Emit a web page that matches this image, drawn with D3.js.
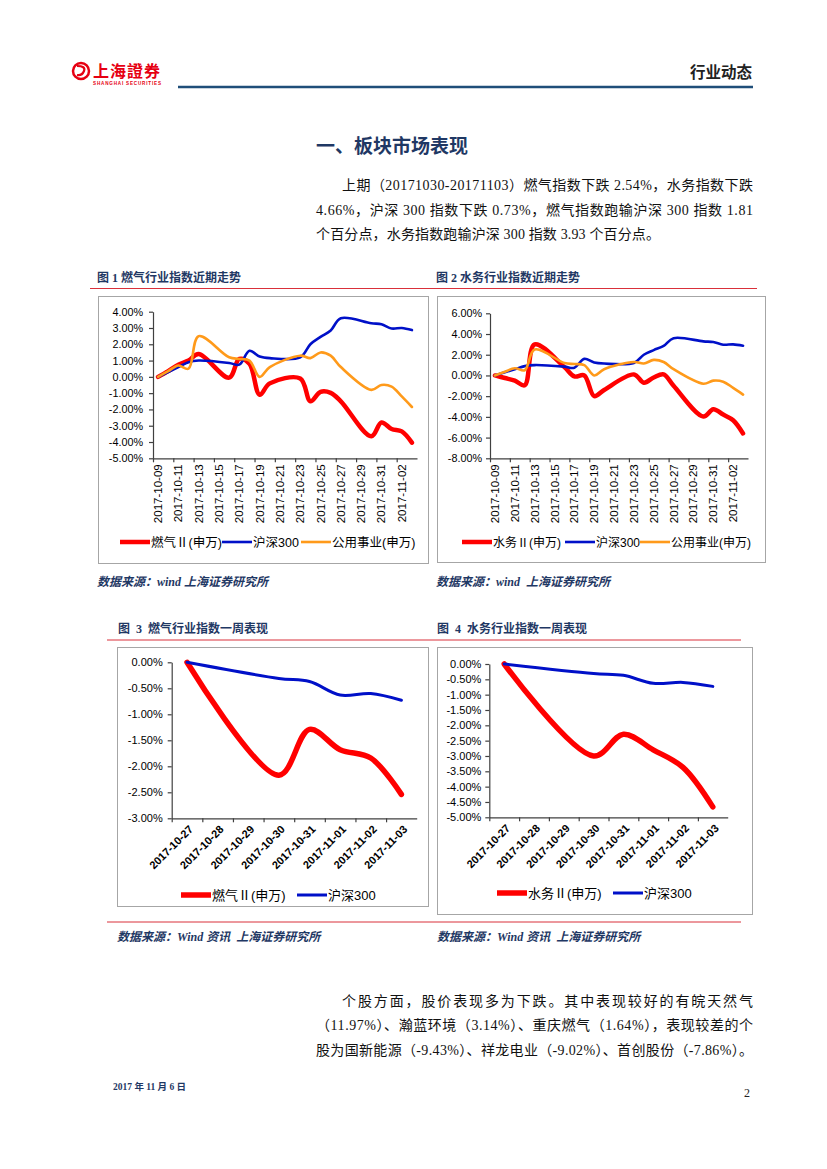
<!DOCTYPE html>
<html>
<head>
<meta charset="utf-8">
<script src="https://cdn.jsdelivr.net/npm/d3@7"></script>
<style>
  body { margin: 0; background: #fff; }
  svg { display: block; }
  .serif { font-family: "Liberation Serif", "Noto Sans CJK SC", serif; }
  .sans { font-family: "Liberation Sans", "Noto Sans CJK SC", sans-serif; }
  .ax text { font-family: "Liberation Sans", "Noto Sans CJK SC", sans-serif; fill: #000; }
  .ax path, .ax line { stroke: #404040; stroke-width: 1.2; }
</style>
</head>
<body>
<svg id="page" width="827" height="1169"></svg>
<script>
// ---- data (percent) ----
const trendDates = ["2017-10-09","2017-10-10","2017-10-11","2017-10-12","2017-10-13",
  "2017-10-16","2017-10-17","2017-10-18","2017-10-19","2017-10-20",
  "2017-10-23","2017-10-24","2017-10-25","2017-10-26","2017-10-27",
  "2017-10-30","2017-10-31","2017-11-01","2017-11-02","2017-11-03"];
const gasTrend   = [0, 0.35, 0.75, 1.0, 1.4, -0.05, 1.1, 0.8, -1.1, -0.4, -0.1, -1.5, -0.92, -0.98, -1.5, -3.65, -2.8, -3.2, -3.35, -4.04];
const waterTrend = [0, -0.25, -0.5, -0.95, 3.0, 0.8, -0.1, 0.0, -2.0, -1.4, 0.1, -0.7, -0.2, 0.1, -1.0, -3.97, -3.27, -3.78, -4.32, -5.6];
const hs300Trend = [0, 0.3, 0.6, 0.9, 1.0, 0.85, 0.75, 1.6, 1.25, 1.15, 1.2, 2.0, 2.45, 2.85, 3.6, 3.29, 3.23, 2.97, 3.0, 2.87];
const utilTrend  = [0, 0.35, 0.7, 0.5, 2.5, 1.2, 1.1, 1.0, 0.0, 0.6, 1.3, 1.15, 1.5, 1.3, 0.6, -0.8, -0.5, -0.6, -1.2, -1.85];
const trendTicks = ["2017-10-09","2017-10-11","2017-10-13","2017-10-15","2017-10-17","2017-10-19",
  "2017-10-21","2017-10-23","2017-10-25","2017-10-27","2017-10-29","2017-10-31","2017-11-02"];

const weekDays  = ["2017-10-27","2017-10-28","2017-10-29","2017-10-30","2017-10-31","2017-11-01","2017-11-02","2017-11-03"];
const weekDates = ["2017-10-27","2017-10-30","2017-10-31","2017-11-01","2017-11-02","2017-11-03"];
const gasWeek   = [0, -2.17, -1.29, -1.68, -1.84, -2.54];
const waterWeek = [0, -3.0, -2.29, -2.8, -3.37, -4.66];
const hs300Week = [0, -0.31, -0.37, -0.63, -0.6, -0.73];

const ticks1 = [4, 3, 2, 1, 0, -1, -2, -3, -4, -5];
const ticks2 = [6, 4, 2, 0, -2, -4, -6, -8];
const ticks3 = [0, -0.5, -1, -1.5, -2, -2.5, -3];
const ticks4 = [0, -0.5, -1, -1.5, -2, -2.5, -3, -3.5, -4, -4.5, -5];

const RED = "#ff0000", BLUE = "#0010c8", ORANGE = "#ff9a1a", NAVY = "#1f3864";

const parse = d3.timeParse("%Y-%m-%d");
const HALF = 12 * 3600 * 1000;
const svg = d3.select("#page");

// ---- page header ----
svg.append("circle").attr("cx", 81).attr("cy", 71).attr("r", 8)
  .attr("fill", "none").attr("stroke", "#e60012").attr("stroke-width", 2.5);
svg.append("path").attr("d", "M77,66 Q86,66 84,71 Q82,76 77,75")
  .attr("fill", "none").attr("stroke", "#e60012").attr("stroke-width", 2.2);
svg.append("text").attr("class", "sans").attr("x", 93).attr("y", 77)
  .attr("font-size", 16).attr("font-weight", "bold").attr("fill", "#e60012")
  .attr("letter-spacing", 1).text("上海證券");
svg.append("text").attr("class", "sans").attr("x", 93).attr("y", 84.5)
  .attr("font-size", 4.6).attr("font-weight", "bold").attr("fill", "#e60012")
  .attr("textLength", 68).text("SHANGHAI SECURITIES");
svg.append("text").attr("class", "sans").attr("x", 752).attr("y", 78)
  .attr("text-anchor", "end").attr("font-size", 15.5).attr("font-weight", "bold")
  .attr("fill", "#222").text("行业动态");
svg.append("line").attr("x1", 178).attr("x2", 753).attr("y1", 87).attr("y2", 87)
  .attr("stroke", "#1f4e79").attr("stroke-width", 2.5);

// ---- section title and paragraph ----
svg.append("text").attr("class", "sans").attr("x", 316).attr("y", 153)
  .attr("font-size", 19).attr("font-weight", "bold").attr("fill", NAVY)
  .text("一、板块市场表现");

function para(x, y, str, len) {
  const t = svg.append("text").attr("class", "serif").attr("x", x).attr("y", y)
    .attr("font-size", 14).attr("fill", "#111").text(str);
  if (len) t.attr("textLength", len).attr("lengthAdjust", "spacing");
}
para(342, 190, "上期（20171030-20171103）燃气指数下跌 2.54%，水务指数下跌", 411);
para(316, 215, "4.66%，沪深 300 指数下跌 0.73%，燃气指数跑输沪深 300 指数 1.81", 437);
para(316, 239, "个百分点，水务指数跑输沪深 300 指数 3.93 个百分点。", 344);

// ---- captions, rules, sources ----
function caption(x, y, str, italic) {
  svg.append("text").attr("class", "serif").attr("x", x).attr("y", y)
    .attr("font-size", 12).attr("font-weight", "bold").attr("fill", NAVY)
    .attr("font-style", italic ? "italic" : "normal").attr("xml:space", "preserve").text(str);
}
function rule(x1, x2, y) {
  svg.append("line").attr("x1", x1).attr("x2", x2).attr("y1", y).attr("y2", y)
    .attr("stroke", "#d9303a").attr("stroke-width", 1);
}
caption(97, 282, "图 1 燃气行业指数近期走势");
caption(436, 282, "图 2 水务行业指数近期走势");
rule(90, 757, 288.5);
caption(97, 586, "数据来源：wind 上海证券研究所", true);
caption(436, 586, "数据来源：wind  上海证券研究所", true);

caption(118, 633, "图  3  燃气行业指数一周表现");
caption(437, 633, "图  4  水务行业指数一周表现");
rule(107, 741, 640);
rule(107, 741, 922);
caption(117, 941, "数据来源：Wind 资讯  上海证券研究所", true);
caption(437, 941, "数据来源：Wind 资讯  上海证券研究所", true);

para(342, 1006, "个股方面，股价表现多为下跌。其中表现较好的有皖天然气", 411);
para(316, 1030, "（11.97%）、瀚蓝环境（3.14%）、重庆燃气（1.64%），表现较差的个", 437);
para(316, 1055, "股为国新能源（-9.43%）、祥龙电业（-9.02%）、首创股份（-7.86%）。", 437);

svg.append("text").attr("class", "serif").attr("x", 113).attr("y", 1090)
  .attr("font-size", 9.5).attr("font-weight", "bold").attr("fill", NAVY).text("2017 年 11 月 6 日");
svg.append("text").attr("class", "serif").attr("x", 744).attr("y", 1097)
  .attr("font-size", 12).attr("fill", "#222").text("2");

// ---- chart helper ----
function lineChart(o) {
  const g = svg.append("g");
  g.append("rect").attr("x", o.box[0] + 0.5).attr("y", o.box[1] + 0.5)
    .attr("width", o.box[2] - o.box[0]).attr("height", o.box[3] - o.box[1])
    .attr("fill", "#fff").attr("stroke", "#a6a6a6");

  const x = d3.scaleTime()
    .domain([new Date(+parse(o.first) - HALF), new Date(+parse(o.last) + HALF)])
    .range([o.x0, o.x1]);
  const y = d3.scaleLinear().domain([d3.min(o.yTicks), d3.max(o.yTicks)]).range([o.yBot, o.yTop]);

  const ya = g.append("g").attr("class", "ax").attr("transform", `translate(${o.x0},0)`)
    .call(d3.axisLeft(y).tickValues(o.yTicks).tickSize(4).tickSizeOuter(0).tickPadding(o.yPad)
      .tickFormat(d => d.toFixed(2) + "%"));
  ya.selectAll("text").attr("font-size", o.yFont);

  g.append("g").attr("class", "ax").attr("transform", `translate(0,${o.yBot})`)
    .call(d3.axisBottom(x).tickValues(o.xTicks.map(d => new Date(+parse(d) - HALF)))
      .tickSize(4).tickSizeOuter(0).tickFormat(""));

  o.xTicks.forEach(d => {
    const cx = x(parse(d));
    const t = g.append("text").attr("class", "sans")
      .attr("font-size", o.xFont).attr("font-weight", o.xBold ? "bold" : "normal")
      .attr("text-anchor", "end").attr("dy", "0.35em").text(d);
    if (o.rot === -90) t.attr("transform", `translate(${cx},${o.yBot + 6}) rotate(-90)`);
    else t.attr("transform", `translate(${cx + 4},${o.yBot + 9}) rotate(-45)`);
  });

  const line = d3.line().curve(d3.curveCatmullRom.alpha(0.5))
    .x(d => x(d[0])).y(d => y(d[1]));
  o.series.forEach(s => {
    const pts = s.dates.map((d, i) => [parse(d), s.values[i]]);
    g.append("path").attr("d", line(pts)).attr("fill", "none")
      .attr("stroke", s.color).attr("stroke-width", s.width)
      .attr("stroke-linejoin", "round").attr("stroke-linecap", "round");
  });

  o.legend.forEach((l, i) => {
    const s = o.series[i];
    g.append("line").attr("x1", l.x).attr("x2", l.x + 30).attr("y1", o.legY).attr("y2", o.legY)
      .attr("stroke", s.color).attr("stroke-width", s.width);
    g.append("text").attr("class", "sans").attr("x", l.x + 31).attr("y", o.legY + 4.5)
      .attr("font-size", o.legFont).attr("fill", "#000").text(s.name);
  });
}

lineChart({
  box: [98, 296, 428, 563], x0: 153, x1: 417, yTop: 311.7, yBot: 458.3,
  first: "2017-10-09", last: "2017-11-03", xTicks: trendTicks, rot: -90, xFont: 11.5,
  yTicks: ticks1, yFont: 10.8, yPad: 6,
  series: [
    { name: "燃气Ⅱ(申万)", dates: trendDates, values: gasTrend, color: RED, width: 4.5 },
    { name: "沪深300", dates: trendDates, values: hs300Trend, color: BLUE, width: 2.6 },
    { name: "公用事业(申万)", dates: trendDates, values: utilTrend, color: ORANGE, width: 2.6 }
  ],
  legY: 542, legFont: 12.5, legend: [{ x: 120 }, { x: 222 }, { x: 301 }]
});

lineChart({
  box: [437, 296, 765, 562], x0: 490, x1: 748, yTop: 313.3, yBot: 458.3,
  first: "2017-10-09", last: "2017-11-03", xTicks: trendTicks, rot: -90, xFont: 11.5,
  yTicks: ticks2, yFont: 10.8, yPad: 4,
  series: [
    { name: "水务Ⅱ(申万)", dates: trendDates, values: waterTrend, color: RED, width: 4.5 },
    { name: "沪深300", dates: trendDates, values: hs300Trend, color: BLUE, width: 2.6 },
    { name: "公用事业(申万)", dates: trendDates, values: utilTrend, color: ORANGE, width: 2.6 }
  ],
  legY: 542, legFont: 12, legend: [{ x: 462 }, { x: 565 }, { x: 640 }]
});

lineChart({
  box: [117, 647, 428, 906], x0: 171.7, x1: 416.7, yTop: 662.3, yBot: 818.3,
  first: "2017-10-27", last: "2017-11-03", xTicks: weekDays, rot: -45, xFont: 11, xBold: true,
  yTicks: ticks3, yFont: 11, yPad: 5,
  series: [
    { name: "燃气Ⅱ(申万)", dates: weekDates, values: gasWeek, color: RED, width: 5.5 },
    { name: "沪深300", dates: weekDates, values: hs300Week, color: BLUE, width: 3 }
  ],
  legY: 895, legFont: 13, legend: [{ x: 181 }, { x: 297 }]
});

lineChart({
  box: [437, 647, 752, 914], x0: 489.3, x1: 727.7, yTop: 664, yBot: 817.3,
  first: "2017-10-27", last: "2017-11-03", xTicks: weekDays, rot: -45, xFont: 11, xBold: true,
  yTicks: ticks4, yFont: 11, yPad: 4,
  series: [
    { name: "水务Ⅱ(申万)", dates: weekDates, values: waterWeek, color: RED, width: 5.5 },
    { name: "沪深300", dates: weekDates, values: hs300Week, color: BLUE, width: 3 }
  ],
  legY: 893, legFont: 13, legend: [{ x: 497 }, { x: 613 }]
});
</script>
</body>
</html>
